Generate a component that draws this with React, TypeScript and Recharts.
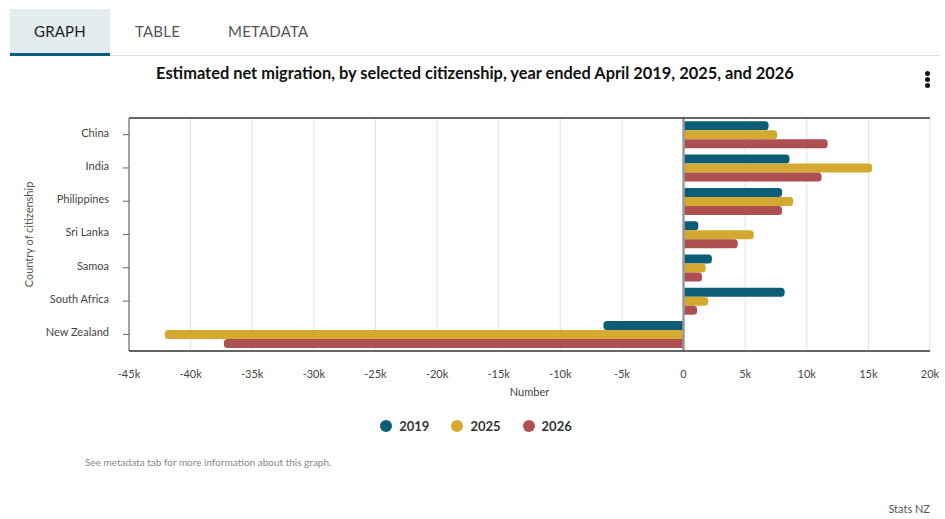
import React from 'react';
import {
  Bar,
  BarChart,
  CartesianGrid,
  Label,
  ReferenceLine,
  XAxis,
  YAxis,
} from 'recharts';

const countries = ['China', 'India', 'Philippines', 'Sri Lanka', 'Samoa', 'South Africa', 'New Zealand'];
const net2019 = [6900, 8600, 8000, 1200, 2300, 8200, -6500];
const net2025 = [7600, 15300, 8900, 5700, 1800, 2000, -42100];
const net2026 = [11700, 11200, 8000, 4400, 1500, 1100, -37300];
const xTicks = [-45000, -40000, -35000, -30000, -25000, -20000, -15000, -10000, -5000, 0, 5000, 10000, 15000, 20000];

const series = [
  { key: 'y2019', name: '2019', color: '#0b5d78' },
  { key: 'y2025', name: '2025', color: '#d3aa2f' },
  { key: 'y2026', name: '2026', color: '#ae5051' },
];

const rows = countries.map((country, i) => ({
  country,
  y2019: net2019[i],
  y2025: net2025[i],
  y2026: net2026[i],
}));

const FONT = 'Lato, "Open Sans", sans-serif';

const fmtK = (v: number) => (v === 0 ? '0' : `${v / 1000}k`);

// bar with the far end rounded, whichever side of zero it sits on
function EndRoundedBar(props: any) {
  const { x, y, width, height, fill, payload, dk } = props;
  if (!width || !height) return null;
  const w = Math.abs(width);
  const left = width < 0 ? x + width : x;
  const negative = (payload?.[dk] ?? 0) < 0;
  const r = Math.min(3.5, w / 2, height / 2);
  const right = left + w;
  const bottom = y + height;
  const d = negative
    ? `M${right},${y} L${left + r},${y} Q${left},${y} ${left},${y + r} L${left},${bottom - r} Q${left},${bottom} ${left + r},${bottom} L${right},${bottom} Z`
    : `M${left},${y} L${right - r},${y} Q${right},${y} ${right},${y + r} L${right},${bottom - r} Q${right},${bottom} ${right - r},${bottom} L${left},${bottom} Z`;
  return <path d={d} fill={fill} />;
}

const abs = (extra: React.CSSProperties): React.CSSProperties => ({ position: 'absolute', ...extra });

export default function App() {
  return (
    <div style={{ position: 'absolute', left: 0, top: 0, width: 945, height: 519, background: '#fff', fontFamily: FONT, overflow: 'hidden' }}>
      {/* tabs */}
      <div style={abs({ left: 10, top: 9, width: 100, height: 44, background: '#e3ecef', borderBottom: '3px solid #0b5d78' })} />
      <div style={abs({ left: 110, top: 55, width: 830, height: 1, background: '#dddddd' })} />
      <div style={abs({ left: 10, top: 22, width: 100, textAlign: 'center', fontSize: 15, color: '#1e1e1e', letterSpacing: 0.2 })}>GRAPH</div>
      <div style={abs({ left: 135, top: 22, fontSize: 15, color: '#555', letterSpacing: 0.2 })}>TABLE</div>
      <div style={abs({ left: 228, top: 22, fontSize: 15, color: '#555', letterSpacing: 0.2 })}>METADATA</div>

      <div style={abs({ left: 0, top: 63, width: 950, textAlign: 'center', fontSize: 16.4, fontWeight: 700, color: '#111' })}>
        Estimated net migration, by selected citizenship, year ended April 2019, 2025, and 2026
      </div>
      {[73, 79, 85].map((t) => (
        <div key={t} style={abs({ left: 924.5, top: t - 2.5, width: 5, height: 5, borderRadius: 3, background: '#111' })} />
      ))}

      <div style={abs({ left: 0, top: 0 })}>
        <BarChart
          width={945}
          height={519}
          data={rows}
          layout="vertical"
          margin={{ top: 117, right: 15, bottom: 118, left: 29 }}
          barCategoryGap="10%"
          barGap={0}
        >
          <CartesianGrid horizontal={false} stroke="#e2e2e2" />
          <XAxis
            type="number"
            domain={[-45000, 20000]}
            ticks={xTicks}
            tickFormatter={fmtK}
            axisLine={{ stroke: '#333', strokeWidth: 1.5 }}
            tickLine={false}
            tick={{ fill: '#444', fontSize: 11, fontFamily: FONT }}
            tickMargin={13}
            height={50}
          >
            <Label value="Number" position="insideBottom" offset={5} style={{ fill: '#444', fontSize: 11, fontFamily: FONT }} />
          </XAxis>
          <XAxis
            xAxisId="top"
            type="number"
            orientation="top"
            domain={[-45000, 20000]}
            tick={false}
            tickLine={false}
            axisLine={{ stroke: '#333', strokeWidth: 1.5 }}
            height={1}
          />
          <YAxis
            type="category"
            dataKey="country"
            width={100}
            axisLine={{ stroke: '#555' }}
            tickLine={{ stroke: '#666' }}
            tickSize={6}
            tickMargin={14}
            tick={{ fill: '#444', fontSize: 11, fontFamily: FONT, dy: -2 }}
          >
            <Label
              value="Country of citizenship"
              angle={-90}
              position="insideLeft"
              offset={0}
              style={{ textAnchor: 'middle', fill: '#555', fontSize: 11, fontFamily: FONT }}
            />
          </YAxis>
          <ReferenceLine x={0} stroke="#9a9a9a" strokeWidth={2.5} />
          {series.map((s) => (
            <Bar
              key={s.key}
              dataKey={s.key}
              name={s.name}
              fill={s.color}
              isAnimationActive={false}
              shape={(p: any) => <EndRoundedBar {...p} dk={s.key} />}
            />
          ))}
        </BarChart>
      </div>

      {/* legend */}
      <div style={abs({ left: 0, top: 418, width: 952, display: 'flex', justifyContent: 'center', gap: 22 })}>
        {series.map((s) => (
          <div key={s.key} style={{ display: 'flex', alignItems: 'center', gap: 7 }}>
            <span style={{ width: 12, height: 12, borderRadius: 6, background: s.color, display: 'inline-block' }} />
            <span style={{ fontSize: 13, fontWeight: 700, color: '#333' }}>{s.name}</span>
          </div>
        ))}
      </div>

      <div style={abs({ left: 85, top: 456, fontSize: 10, color: '#888' })}>See metadata tab for more information about this graph.</div>
      <div style={abs({ right: 15, top: 502, fontSize: 11, color: '#555' })}>Stats NZ</div>
    </div>
  );
}
